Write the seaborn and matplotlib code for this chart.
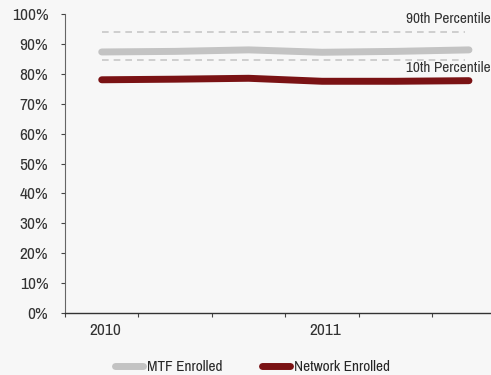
import matplotlib
matplotlib.use("Agg")
import matplotlib.pyplot as plt
import seaborn as sns
import pandas as pd
import numpy as np
from matplotlib import font_manager
from matplotlib.lines import Line2D

periods = ["2010 Q1", "2010 Q2", "2010 Q3", "2011 Q1", "2011 Q2", "2011 Q3"]
tick_labels = ["2010", "", "", "2011", "", ""]
mtf_enrolled = [87.3, 87.5, 88.0, 87.2, 87.5, 88.0]
network_enrolled = [78.0, 78.2, 78.5, 77.5, 77.5, 77.7]
p90 = 94.0
p10 = 84.5

sns.set_theme(style="white")
names = sorted({f.name for f in font_manager.fontManager.ttflist})
narrow = [n for n in names if "Narrow" in n or "Condensed" in n]
fam = narrow[0] if narrow else "Liberation Sans"
plt.rcParams["font.family"] = [fam, "DejaVu Sans"]

df = pd.DataFrame({
    "x": list(range(len(periods))) * 2,
    "value": mtf_enrolled + network_enrolled,
    "series": ["MTF Enrolled"] * len(periods) + ["Network Enrolled"] * len(periods),
})

bg = "#f7f7f7"
fig = plt.figure(figsize=(4.91, 3.75), dpi=100, facecolor=bg)
ax = fig.add_axes([65 / 491, 62 / 375, 1 - 65 / 491, 299 / 375])
ax.set_facecolor(bg)

colors = {"MTF Enrolled": "#c3c3c3", "Network Enrolled": "#7a1214"}
sns.lineplot(data=df, x="x", y="value", hue="series", palette=colors, ax=ax,
             linewidth=5, legend=False, solid_capstyle="round")

ax.hlines([p90, p10], 0, 4.95, colors="#c8c8c8", linestyles=(0, (4, 3)), linewidth=1.2)
ax.text(5.29, 98.4, "90th Percentile", ha="right", va="center", fontsize=11, color="#333333")
ax.text(5.29, 81.8, "10th Percentile", ha="right", va="center", fontsize=11, color="#333333")

ax.set_ylim(0, 100)
ax.set_xlim(-0.5, 5.3)
ax.set_yticks(np.arange(0, 101, 10))
ax.set_yticklabels([f"{v}%" for v in range(0, 101, 10)], fontsize=12.5, color="#333333")
ax.set_xticks(np.arange(-0.5, 5.5, 1))
ax.set_xticklabels([])
for i, lab in enumerate(tick_labels):
    if lab:
        ax.text(i + 0.05, -3.3, lab, ha="center", va="top", fontsize=12.5, color="#333333")
ax.tick_params(axis="both", which="both", length=3, width=0.8, color="#444444", direction="out",
               bottom=True, left=True)
ax.tick_params(axis="y", pad=9)
ax.set_xlabel("")
ax.set_ylabel("")
for s in ["top", "right"]:
    ax.spines[s].set_visible(False)
ax.spines["left"].set_color("#666666")
ax.spines["bottom"].set_color("#333333")
ax.spines["left"].set_linewidth(0.8)
ax.spines["bottom"].set_linewidth(1.0)

handles = [Line2D([0], [0], color=colors[k], lw=5, solid_capstyle="round") for k in colors]
fig.legend(handles, list(colors.keys()), loc="center left", bbox_to_anchor=(115 / 491, 8 / 375),
           ncol=2, frameon=False, fontsize=11, handlelength=1.8, columnspacing=2.6,
           handletextpad=0.3, borderpad=0.0, borderaxespad=0.0)

fig.savefig("out.png", dpi=100, facecolor=bg)
